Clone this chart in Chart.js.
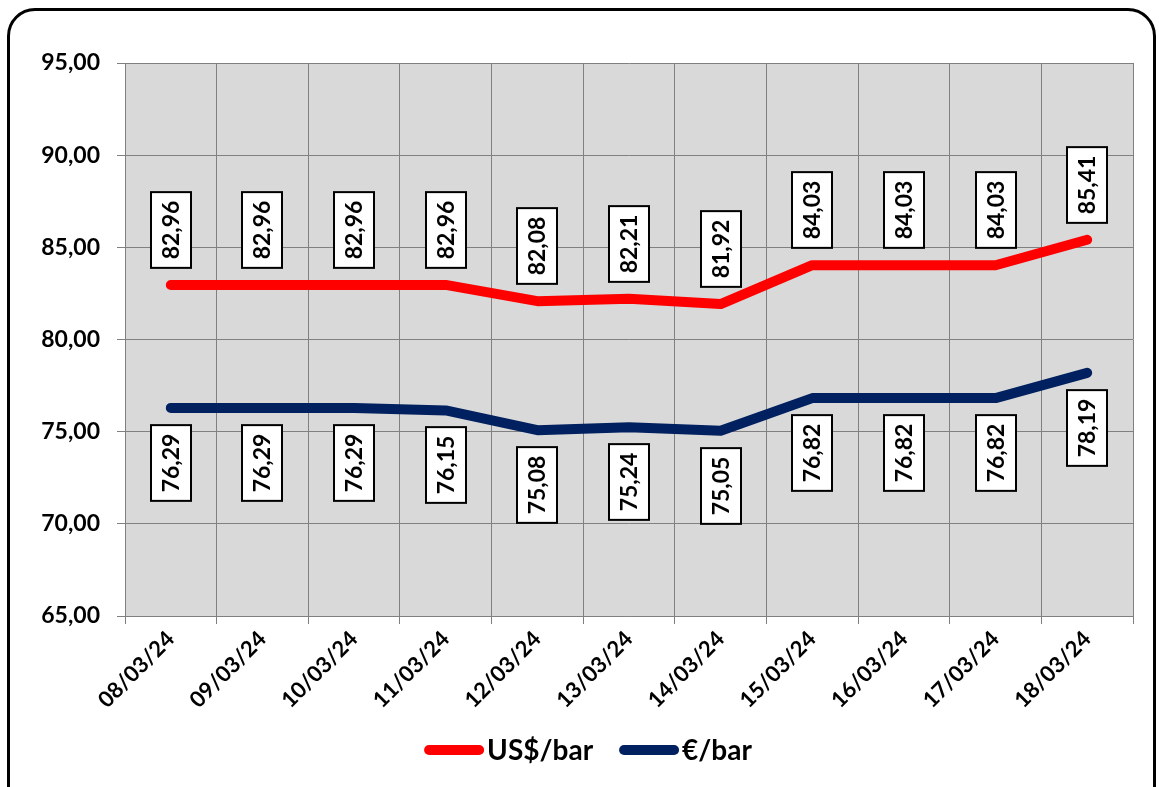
<!DOCTYPE html>
<html>
<head>
<meta charset="utf-8">
<script src="https://cdn.jsdelivr.net/npm/chart.js@4.4.1/dist/chart.umd.min.js"></script>
<style>
html, body { margin: 0; padding: 0; background: #fff; overflow: hidden; width: 1159px; height: 787px; }
#frame { position: absolute; left: 7px; top: 8px; width: 1143px; height: 830px; border: 3px solid #000; border-radius: 28px; }
#chartCanvas { position: absolute; left: 0; top: 0; }
</style>
</head>
<body>
<div id="frame"></div>
<canvas id="chartCanvas" width="1159" height="787"></canvas>
<script>
var dates = ["08/03/24", "09/03/24", "10/03/24", "11/03/24", "12/03/24", "13/03/24", "14/03/24", "15/03/24", "16/03/24", "17/03/24", "18/03/24"];
var usdPerBarrel = [82.96, 82.96, 82.96, 82.96, 82.08, 82.21, 81.92, 84.03, 84.03, 84.03, 85.41];
var eurPerBarrel = [76.29, 76.29, 76.29, 76.15, 75.08, 75.24, 75.05, 76.82, 76.82, 76.82, 78.19];
var yMin = 65;
var yMax = 95;
var yStep = 5;

var FONT = "Lato, 'Noto Sans', sans-serif";

function formatNum(v){
    return v.toFixed(2).replace('.', ',');
}

// grey plot area behind the grid
var plotBackground = {
    id: 'plotBackground',
    beforeDraw: function(chart){
        var a = chart.chartArea;
        var ctx = chart.ctx;
        ctx.save();
        ctx.fillStyle = '#d9d9d9';
        ctx.fillRect(a.left, a.top, a.right - a.left, a.bottom - a.top);
        ctx.restore();
    }
};

// rotated white boxes with the values, like the excel data labels
var valueBoxes = {
    id: 'valueBoxes',
    afterDatasetsDraw: function(chart){
        var ctx = chart.ctx;
        chart.data.datasets.forEach(function(ds, i){
            var meta = chart.getDatasetMeta(i);
            meta.data.forEach(function(pt, j){
                var text = formatNum(ds.data[j]);
                ctx.save();
                ctx.font = 'bold 23px ' + FONT;
                var len = ctx.measureText(text).width + 17;
                var thick = 40;
                var gap = 17;
                var cy = ds.labelSide === 'above' ? pt.y - gap - len / 2 : pt.y + gap + len / 2;
                ctx.translate(Math.round(pt.x), Math.round(cy));
                ctx.rotate(-Math.PI / 2);
                ctx.fillStyle = '#fff';
                ctx.fillRect(-len / 2, -thick / 2, len, thick);
                ctx.strokeStyle = '#000';
                ctx.lineWidth = 2;
                ctx.strokeRect(-len / 2, -thick / 2, len, thick);
                ctx.fillStyle = '#000';
                ctx.textAlign = 'center';
                ctx.textBaseline = 'middle';
                ctx.fillText(text, 0, 1);
                ctx.restore();
            });
        });
    }
};

// legend drawn by hand so the line sample sits right against the text
var lineLegend = {
    id: 'lineLegend',
    afterDraw: function(chart){
        var ctx = chart.ctx;
        var sampleW = 60;
        var itemGap = 26;
        var y = 750;
        ctx.save();
        ctx.font = 'bold 28px ' + FONT;
        ctx.textBaseline = 'middle';
        ctx.textAlign = 'left';
        var total = 0;
        chart.data.datasets.forEach(function(ds, i){
            total += sampleW + 3 + ctx.measureText(ds.label).width;
            if (i > 0) total += itemGap;
        });
        var x = 588 - total / 2;
        chart.data.datasets.forEach(function(ds){
            ctx.strokeStyle = ds.borderColor;
            ctx.lineWidth = 10;
            ctx.lineCap = 'round';
            ctx.beginPath();
            ctx.moveTo(x + 5, y);
            ctx.lineTo(x + sampleW - 5, y);
            ctx.stroke();
            x += sampleW + 3;
            ctx.fillStyle = '#000';
            ctx.fillText(ds.label, x, y + 1);
            x += ctx.measureText(ds.label).width + itemGap;
        });
        ctx.restore();
    }
};

var ctx = document.getElementById('chartCanvas').getContext('2d');
var myLineChart = new Chart(ctx, {
    type: 'line',
    data: {
        labels: dates,
        datasets: [{
            label: 'US$/bar',
            data: usdPerBarrel,
            borderColor: '#ff0000',
            backgroundColor: '#ff0000',
            borderWidth: 10,
            borderCapStyle: 'round',
            borderJoinStyle: 'round',
            pointRadius: 0,
            tension: 0,
            labelSide: 'above'
        }, {
            label: '€/bar',
            data: eurPerBarrel,
            borderColor: '#002060',
            backgroundColor: '#002060',
            borderWidth: 10,
            borderCapStyle: 'round',
            borderJoinStyle: 'round',
            pointRadius: 0,
            tension: 0,
            labelSide: 'below'
        }]
    },
    options: {
        responsive: false,
        animation: false,
        layout: {
            padding: { left: 0, right: 26, top: 63, bottom: 0 }
        },
        plugins: {
            legend: { display: false },
            tooltip: { enabled: false }
        },
        scales: {
            x: {
                offset: true,
                grid: { offset: true, color: '#808080', lineWidth: 1, tickLength: 8 },
                border: { color: '#808080' },
                ticks: {
                    maxRotation: 45,
                    minRotation: 45,
                    padding: 2,
                    color: '#000',
                    font: { family: FONT, size: 22, weight: 'bold' }
                },
                afterFit: function(scale){ scale.height = 171; }
            },
            y: {
                min: yMin,
                max: yMax,
                grid: { color: '#808080', lineWidth: 1, tickLength: 8 },
                border: { color: '#808080' },
                ticks: {
                    stepSize: yStep,
                    padding: 17,
                    color: '#000',
                    font: { family: FONT, size: 23, weight: 'bold' },
                    callback: function(v){ return formatNum(v); }
                },
                afterFit: function(scale){ scale.width = 125; }
            }
        }
    },
    plugins: [plotBackground, valueBoxes, lineLegend]
});
</script>
</body>
</html>
